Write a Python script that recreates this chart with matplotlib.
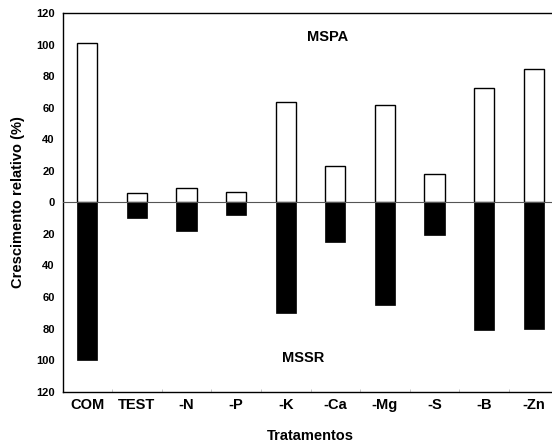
import matplotlib
matplotlib.use("Agg")
from matplotlib import pyplot as plt

# tratamentos e crescimento relativo (%)
tratamentos = ["COM", "TEST", "-N", "-P", "-K", "-Ca", "-Mg", "-S", "-B", "-Zn"]
mspa = [101, 6, 9, 6.5, 63.5, 23, 61.5, 18, 72.5, 84.5]
mssr = [100, 10, 18, 8, 70, 25, 65, 21, 81, 80]
yticks = [-120, -100, -80, -60, -40, -20, 0, 20, 40, 60, 80, 100, 120]

plt.rcParams['font.family'] = ['Liberation Sans', 'DejaVu Sans']
plt.rcParams['font.weight'] = 'bold'

fig = plt.figure(figsize=(5.52, 4.46), dpi=100)
ax = fig.add_axes([62.5/552, 1 - 391.7/446, (558.5 - 62.5)/552, (391.7 - 13)/446])

x = list(range(len(tratamentos)))
ax.bar(x, mspa, width=0.41, color="white", edgecolor="black", linewidth=1.0, zorder=2)
ax.bar(x, [-v for v in mssr], width=0.41, color="black", edgecolor="black", linewidth=0.5, zorder=2)
ax.axhline(0, color="#555555", linewidth=0.8, zorder=3)

ax.set_xlim(-0.5, 9.5)
ax.set_ylim(-120, 120)
ax.set_yticks(yticks)
ax.set_yticklabels([str(abs(v)) for v in yticks], fontsize=8, fontweight="bold")
ax.tick_params(axis='y', length=0, pad=5.5)
ax.set_xticks(x)
ax.set_xticklabels(tratamentos, fontsize=10.5, fontweight="bold")
ax.tick_params(axis='x', which='major', length=0, pad=4.5)
ax.set_xticks([i + 0.5 for i in range(len(tratamentos))], minor=True)
ax.tick_params(axis='x', which='minor', length=2, color="#bbbbbb", direction="in")

ax.spines['right'].set_visible(False)
for s in ['left', 'top', 'bottom']:
    ax.spines[s].set_linewidth(1.0)

ax.text(4.85, 105, "MSPA", fontsize=10.5, fontweight="bold", ha="center", va="center")
ax.text(4.36, -98.5, "MSSR", fontsize=10.5, fontweight="bold", ha="center", va="center")

ax.set_ylabel("Crescimento relativo (%)", fontsize=10.5, fontweight="bold", labelpad=8)
ax.set_xlabel("Tratamentos", fontsize=10.5, fontweight="bold", labelpad=12)

fig.savefig("out.png", dpi=100)
